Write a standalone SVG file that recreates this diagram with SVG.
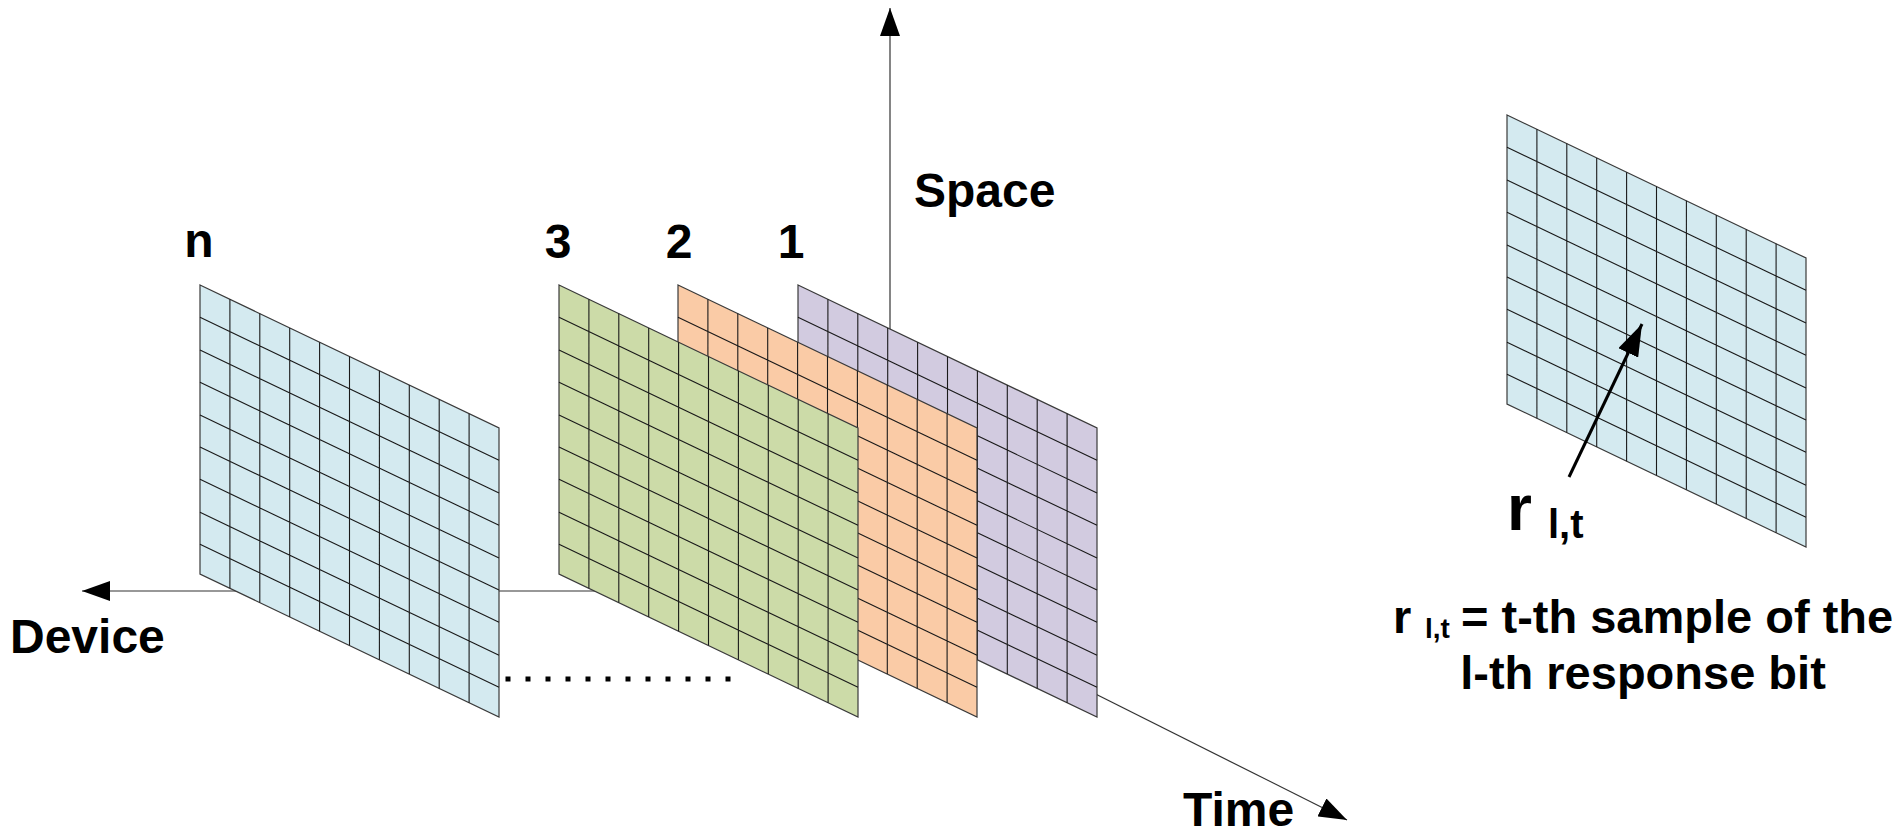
<svg xmlns="http://www.w3.org/2000/svg" xmlns:xlink="http://www.w3.org/1999/xlink" width="1901" height="835" viewBox="0 0 1901 835">
<style>
  .lbl { font-family: "Liberation Sans", Arial, sans-serif; font-weight: bold; fill: #000; }
  .axis { stroke: #333; stroke-width: 1.2; fill: none; }
  .edge { stroke: #3a3a3a; stroke-width: 1.2; }
  .grid { stroke: #1a1a1a; stroke-width: 1.1; fill: none; }
</style>
<defs>
  <marker id="ah" viewBox="0 0 28 20" refX="28" refY="10" markerWidth="28" markerHeight="20" markerUnits="userSpaceOnUse" orient="auto">
    <path d="M0,0 L28,10 L0,20 z" fill="#000"/>
  </marker>
  <marker id="ahBig" viewBox="0 0 32 22" refX="32" refY="11" markerWidth="32" markerHeight="22" markerUnits="userSpaceOnUse" orient="auto">
    <path d="M0,0 L32,11 L0,22 z" fill="#000"/>
  </marker>
  <g id="panel">
    <polygon class="edge" points="0,0 299,143 299,432 0,289"/>
    <path class="grid" d="M0,32.3 L299,175.3 M0,65 L299,208 M0,97.3 L299,240.3 M0,130 L299,273 M0,162 L299,305 M0,194.3 L299,337.3 M0,227.3 L299,370.3 M0,259.3 L299,402.3
      M29.9,14.3 L29.9,303.3 M59.8,28.6 L59.8,317.6 M89.7,42.9 L89.7,331.9 M119.6,57.2 L119.6,346.2 M149.5,71.5 L149.5,360.5 M179.4,85.8 L179.4,374.8 M209.3,100.1 L209.3,389.1 M239.2,114.4 L239.2,403.4 M269.1,128.7 L269.1,417.7"/>
  </g>
</defs>

<g id="connectors">
  <line id="axis-device" class="axis" x1="890" y1="591" x2="82" y2="591" marker-end="url(#ah)"/>
  <line id="axis-space" class="axis" x1="890" y1="591" x2="890" y2="8" marker-end="url(#ah)"/>
  <line id="axis-time" class="axis" x1="890" y1="591" x2="1347" y2="820" marker-end="url(#ah)"/>
</g>

<g id="frame-n">
  <use xlink:href="#panel" href="#panel" x="200" y="285" fill="#D4EAF0"/>
  <text class="lbl" x="199" y="257" font-size="48" text-anchor="middle">n</text>
</g>

<g id="frame-1">
  <use xlink:href="#panel" href="#panel" x="798" y="285" fill="#D2CBE0"/>
  <text class="lbl" x="791" y="258" font-size="48" text-anchor="middle">1</text>
</g>

<g id="frame-2">
  <use xlink:href="#panel" href="#panel" x="678" y="285" fill="#FACBA6"/>
  <text class="lbl" x="679" y="258" font-size="48" text-anchor="middle">2</text>
</g>

<g id="frame-3">
  <use xlink:href="#panel" href="#panel" x="559" y="285" fill="#CCDBA8"/>
  <text class="lbl" x="558" y="258" font-size="48" text-anchor="middle">3</text>
</g>

<g id="ellipsis" fill="#000">
  <rect x="505.5" y="676.5" width="5" height="5"/>
  <rect x="525.5" y="676.5" width="5" height="5"/>
  <rect x="545.5" y="676.5" width="5" height="5"/>
  <rect x="565.5" y="676.5" width="5" height="5"/>
  <rect x="585.5" y="676.5" width="5" height="5"/>
  <rect x="605.5" y="676.5" width="5" height="5"/>
  <rect x="625.5" y="676.5" width="5" height="5"/>
  <rect x="645.5" y="676.5" width="5" height="5"/>
  <rect x="665.5" y="676.5" width="5" height="5"/>
  <rect x="685.5" y="676.5" width="5" height="5"/>
  <rect x="705.5" y="676.5" width="5" height="5"/>
  <rect x="725.5" y="676.5" width="5" height="5"/>
</g>

<g id="axis-labels">
  <text class="lbl" x="914" y="207" font-size="48">Space</text>
  <text class="lbl" x="10" y="653" font-size="48">Device</text>
  <text class="lbl" x="1183" y="826" font-size="48">Time</text>
</g>

<g id="sample-frame">
  <use xlink:href="#panel" href="#panel" x="1507" y="115" fill="#D4EAF0"/>
  <line x1="1569" y1="477" x2="1642" y2="324" stroke="#000" stroke-width="3" marker-end="url(#ahBig)"/>
  <text class="lbl" x="1507" y="530" font-size="64">r</text>
  <text class="lbl" x="1548" y="538" font-size="40">l,t</text>
</g>

<g id="legend">
  <text class="lbl" x="1393" y="633" font-size="47">r</text>
  <text class="lbl" x="1425" y="638" font-size="28">l,t</text>
  <text class="lbl" x="1461" y="633" font-size="47">= t-th sample of the</text>
  <text class="lbl" x="1643" y="689" font-size="47" text-anchor="middle">l-th response bit</text>
</g>
</svg>
